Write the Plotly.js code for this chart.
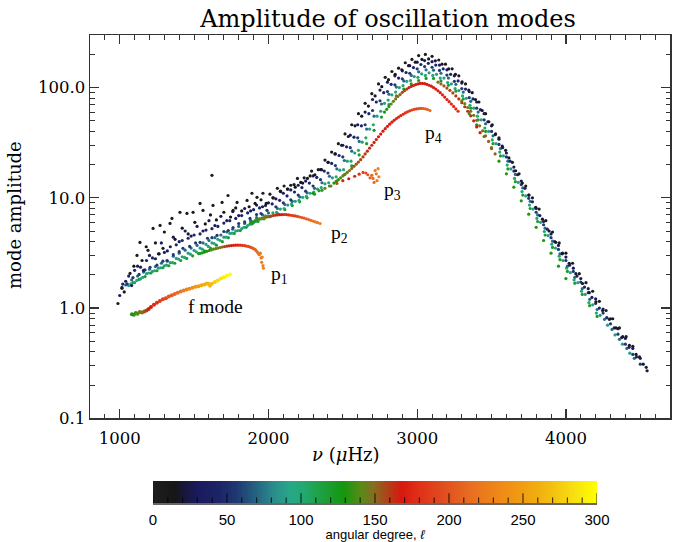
<!DOCTYPE html>
<html><head><meta charset="utf-8">
<script src="https://cdn.plot.ly/plotly-3.0.1.min.js"></script>
<style>html,body{margin:0;padding:0;background:#fff}</style>
</head><body><div id="plot" style="width:680px;height:542px"></div>
<script>
// ---- data: frequency (µHz), amplitude, angular degree ----
// low-degree band, black (l ~ 4)
const nuK = [988,1015,1069,1116,1136,1190,1224,1271,1291,1338,1351,1405,1452,1493,1540,1560,1620,1627,1688,1728,1762,1789,1856,1889,1923,1963,2010,2060,2105,2150,2195,2240,2290,2335,2380,2425,2470,2515,2560,2605,2650,2695,2740,2785,2830,2875,2920,2965,3010,3055,3100,3145,3190,3235,3280,3325,3370,3415,3460,3505,3550,3595,3640,3685,3730,3775,3820,3865,3910,3955,4000,4045,4090,4135,4180,4225,4270,4315,4360,4405,4450,4495,4546];
const ampK = [1.10,1.51,2.06,3.0,3.94,3.34,5.28,5.62,3.48,5.86,6.5,7.38,7.22,7.38,8.9,7.69,16.0,8.53,9.08,10.5,7.69,9.08,9.47,11.0,10.1,11.0,10.8,12.2,12.8,13.0,15.0,15.2,17.5,18.0,22.0,26.0,31.0,38.0,46.0,58.0,72.0,88.0,108,124,140,150,168,180,195,200,192,178,163,148,128,108,90,74,58,46,35,27,21,16.5,12.8,10.0,7.9,6.2,4.9,3.9,3.15,2.55,2.05,1.70,1.42,1.15,0.95,0.80,0.66,0.55,0.45,0.36,0.27];
const ellK = 4;
// dark band (l ~ 18)
const nuD = [2032,2082,2127,2172,2217,2262,2312,2357,2402,2447,2492,2537,2582,2627,2672,2717,2762,2807,2852,2897,2942,2987,3032,3077,3122,3167,3212,3257,3302,3347,3392,3437,3482,3527,3572,3617,3662,3707,3752,3797,3842,3887,3932,3977,4022,4067,4112,4157,4202,4247,4292,4337,4382,4427,4472,4520];
const ampD = [10.0,11.4,12.0,13.2,13.8,15.0,16.2,18.0,21.0,25.0,30.0,36,45,55,68,84,102,118,132,145,158,170,180,182,175,163,148,132,113,95,78,62,49,38,29.5,23,17.6,13.6,10.6,8.2,6.4,5.0,3.95,3.15,2.55,2.05,1.67,1.38,1.14,0.95,0.79,0.66,0.55,0.46,0.38,0.31];
const ellD = 18;
// scattered dark points at low frequency (l ~ 15)
const nuS = [1030,1095,1150,1178,1240,1265,1300,1372,1420,1460,1505,1575,1610,1650,1700,1745,1780,1820,1870,1910,1950,1985,2030,2080,2130,2180,2230,2280];
const ampS = [1.4,2.4,2.7,3.6,3.9,3.1,4.9,4.2,5.3,4.7,6.0,5.8,7.0,6.3,7.4,6.7,8.1,7.6,8.3,8.9,9.6,8.9,10.0,11.5,12.0,12.5,13.6,15.8];
const ellS = 15;
// navy band (l ~ 32)
const nuN = [1000,1040,1080,1120,1160,1200,1240,1280,1320,1360,1400,1440,1480,1520,1560,1600,1640,1680,1720,1760,1800,1840,1880,1920,1960,2000,2050,2100,2150,2200,2250,2300,2350,2400,2450,2500,2550,2600,2650,2700,2750,2800,2850,2900,2950,3000,3050,3100,3150,3200,3250,3300,3350,3400,3450,3500,3550,3600,3650,3700,3750,3800,3850,3900,3950,4000,4050,4100,4150,4200,4250,4300,4350,4400,4450,4500,4540];
const ampN = [1.3,1.75,1.6,2.4,2.2,3.0,2.8,3.9,3.3,4.4,4.0,5.0,4.5,5.5,5.0,6.2,5.6,6.8,6.2,7.5,6.9,8.0,7.6,8.6,8.3,9.0,9.8,11.0,11.8,13.0,14.2,15.8,18.0,21.0,25,30,37,46,60,78,95,112,128,142,158,170,176,172,160,145,128,110,92,74,58,45,34,25.5,19,14.2,10.6,8.0,6.1,4.7,3.7,2.9,2.3,1.85,1.50,1.21,0.98,0.80,0.65,0.53,0.43,0.35,0.29];
const ellN = 32;
// navy-blue band (l ~ 44)
const nuM = [1020,1060,1100,1140,1180,1220,1260,1300,1340,1380,1420,1460,1500,1540,1580,1620,1660,1700,1740,1780,1820,1860,1900,1940,1980,2025,2075,2125,2175,2225,2275,2325,2375,2425,2475,2525,2575,2625,2675,2725,2775,2825,2875,2925,2975,3025,3075,3125,3175,3225,3275,3325,3375,3425,3475,3525,3575,3625,3675,3725,3775,3825,3875,3925,3975,4025,4075,4125,4175,4225,4275,4325,4375,4425,4475];
const ampM = [1.65,1.95,2.2,2.35,2.7,2.85,3.1,3.2,3.6,3.75,4.1,4.3,4.6,4.7,5.1,5.25,5.5,5.9,6.2,6.5,6.9,7.3,7.8,8.1,8.5,8.8,9.5,10.4,11.3,12.4,13.6,15.3,17.5,20.5,24.2,29,35.5,45,58,74,90,107,122,137,152,162,166,160,148,132,115,97,79,63,49,37.5,28.5,21.5,16.2,12.2,9.2,6.9,5.2,4.0,3.1,2.45,1.95,1.55,1.25,1.0,0.82,0.66,0.54,0.44,0.36];
const ellM = 44;
// blue band (l ~ 57)
const nuB = [1015,1050,1089,1130,1170,1204,1250,1290,1318,1360,1400,1425,1470,1510,1540,1590,1620,1654,1700,1730,1762,1800,1840,1876,1920,1950,1990,2050,2100,2150,2200,2250,2300,2350,2400,2450,2500,2550,2600,2650,2700,2750,2800,2850,2900,2950,3000,3050,3100,3150,3200,3250,3300,3350,3400,3450,3500,3550,3600,3650,3700,3750,3800,3850,3900,3950,4000,4050,4100,4150,4200,4250,4300,4350,4400,4450,4500];
const ampB = [1.54,1.66,1.89,2.02,2.22,2.34,2.45,2.66,2.70,3.05,3.25,3.48,3.62,3.90,3.94,4.30,4.35,4.56,4.95,5.05,5.38,5.85,6.05,6.5,7.05,7.2,7.7,8.3,9.0,9.6,10.6,11.5,12.8,14.6,16.8,19.6,23.5,28.5,35,46,62,76,92,106,120,135,148,155,153,143,130,114,98,81,65,51,40,30.5,23.5,17.5,13.2,9.9,7.4,5.7,4.35,3.4,2.7,2.15,1.72,1.38,1.1,0.9,0.72,0.58,0.47,0.38,0.31];
const ellB = 57;
// blue-teal band (l ~ 72)
const nuU = [1040,1080,1120,1160,1200,1240,1280,1320,1360,1400,1440,1480,1520,1560,1600,1640,1680,1720,1760,1800,1840,1880,1920,1960,2000,2060,2110,2160,2210,2260,2310,2360,2410,2460,2510,2560,2610,2660,2710,2760,2810,2860,2910,2960,3010,3060,3110,3160,3210,3260,3310,3360,3410,3460,3510,3560,3610,3660,3710,3760,3810,3860,3910,3960,4010,4060,4110,4160,4210,4260,4310,4360,4410,4460];
const ampU = [1.62,1.80,1.95,2.12,2.25,2.38,2.55,2.66,2.95,3.15,3.35,3.5,3.7,3.9,4.1,4.35,4.6,4.9,5.2,5.5,5.85,6.2,6.6,7.0,7.3,8.0,8.7,9.3,10.2,11.1,12.2,13.7,15.7,18.3,21.8,26.5,32.5,42,55,71,87,101,115,129,139,145,144,135,122,107,91,75,60,47,36.5,28,21.5,16.3,12.3,9.3,7.0,5.3,4.05,3.1,2.4,1.9,1.5,1.2,0.97,0.79,0.64,0.52,0.43,0.35];
const ellU = 72;
// teal band (l ~ 88)
const nuT = [1060,1100,1140,1180,1220,1260,1300,1340,1380,1420,1460,1500,1540,1580,1620,1660,1700,1740,1780,1820,1860,1900,1940,1980,2030,2080,2130,2180,2230,2280,2330,2380,2430,2480,2530,2580,2630,2680,2730,2780,2830,2880,2930,2980,3030,3080,3130,3180,3230,3280,3330,3380,3430,3480,3530,3580,3630,3680,3730,3780,3830,3880,3930,3980,4030,4080,4130,4180,4230,4280,4330,4380,4430];
const ampT = [1.60,1.70,1.84,2.05,2.15,2.30,2.42,2.58,2.82,2.92,3.15,3.33,3.50,3.78,3.90,4.20,4.40,4.75,5.00,5.25,5.60,5.95,6.40,6.85,7.3,7.9,8.6,9.3,10.1,11.0,12.0,13.4,15.2,17.8,21.5,25.5,32,42,55,72,86,100,114,126,133,136,132,122,108,94,80,65,51,40,31,24,18.3,13.8,10.4,7.9,6.0,4.55,3.5,2.7,2.1,1.7,1.33,1.07,0.86,0.70,0.57,0.47,0.39];
const ellT = 88;
// teal-green band (l ~ 103)
const nuV = [1075,1115,1155,1195,1235,1275,1315,1355,1395,1435,1475,1515,1555,1595,1635,1675,1715,1755,1795,1835,1875,1915,1955,1995,2055,2105,2155,2205,2255,2305,2355,2405,2455,2505,2555,2605,2655,2705,2755,2805,2855,2905,2955,3005,3055,3105,3155,3205,3255,3305,3355,3405,3455,3505,3555,3605,3655,3705,3755,3805,3855,3905,3955,4005,4055,4105,4155,4205];
const ampV = [1.66,1.78,1.90,2.08,2.18,2.32,2.45,2.58,2.78,2.88,3.08,3.24,3.42,3.62,3.85,4.1,4.4,4.78,5.05,5.4,5.75,6.1,6.45,6.8,7.4,8.0,8.8,9.5,10.3,11.3,12.4,13.7,15.5,18.0,21.5,27,35,46,61,77,91,104,116,124,129,129,122,111,98,84,69,55,43,33.5,26,19.8,15.0,11.4,8.6,6.5,4.95,3.8,2.95,2.3,1.8,1.42,1.12,0.9];
const ellV = 103;
// green band (l ~ 120)
const nuG = [1090,1130,1170,1210,1250,1290,1330,1370,1410,1450,1490,1530,1570,1610,1650,1690,1730,1770,1810,1850,1890,1930,1970,2010,2060,2110,2160,2210,2260,2310,2360,2410,2460,2510,2560,2610,2660,2710,2760,2810,2860,2910,2960,3010,3060,3110,3160,3210,3260,3310,3360,3410,3460,3510,3560,3610,3660,3710,3760,3810,3860,3910,3960,4010,4060,4110,4160,4210];
const ampG = [1.70,1.82,1.93,2.08,2.18,2.32,2.42,2.55,2.70,2.82,2.98,3.12,3.30,3.50,3.72,4.00,4.35,4.75,5.05,5.40,5.80,6.10,6.45,6.75,7.2,7.8,8.5,9.2,10.0,10.8,11.7,12.8,14.2,16.2,19.5,24.5,31,41,54,70,84,97,108,116,121,121,115,105,93,79,65,51,40,31,24,18.3,14.0,10.6,8.0,6.1,4.6,3.55,2.75,2.15,1.68,1.33,1.05,0.84];
const ellG = 120;
// green points on the falling side (l ~ 132)
const nuG2 = [3350,3400,3450,3500,3550,3600,3650,3700,3750,3800,3850,3900,3950,4000];
const ampG2 = [58,46,36,28,21.5,16.5,12.5,9.4,7.1,5.4,4.1,3.15,2.4,1.85];
const ellG2 = 132;
// f mode
const nuF = [1082,1095,1108,1120,1135,1150,1165,1180,1195,1210,1230,1250,1270,1290,1310,1330,1350,1370,1390,1410,1430,1450,1470,1490,1510,1530,1550,1570,1585,1597,1607,1620,1640,1660,1680,1700,1720,1741];
const ampF = [0.88,0.87,0.90,0.89,0.92,0.91,0.93,0.95,0.98,1.02,1.07,1.12,1.16,1.20,1.23,1.27,1.31,1.34,1.38,1.41,1.44,1.47,1.50,1.53,1.56,1.58,1.61,1.64,1.67,1.66,1.59,1.66,1.72,1.78,1.85,1.90,1.96,2.02];
const ellF = [128,132,136,140,144,148,153,160,166,170,175,180,185,190,195,200,205,210,215,220,225,230,235,240,245,250,255,260,262,264,266,270,276,282,287,292,296,300];
// p1
const nuP1 = [1540,1555,1570,1585,1600,1615,1630,1645,1660,1675,1690,1705,1720,1735,1750,1765,1780,1795,1810,1825,1840,1852,1865,1878,1890,1900,1910,1918,1925,1932,1938,1945,1950,1955,1958,1963,1966];
const ampP1 = [3.13,3.17,3.22,3.27,3.32,3.37,3.42,3.46,3.50,3.54,3.58,3.61,3.64,3.67,3.69,3.71,3.72,3.72,3.72,3.70,3.68,3.65,3.62,3.57,3.52,3.46,3.40,3.31,3.22,3.13,3.05,3.15,2.85,2.60,2.90,2.43,2.30];
const ellP1 = [122,125,128,131,134,137,140,143,146,149,152,156,160,163,166,169,172,175,178,181,185,188,192,196,200,204,208,211,215,218,220,222,224,226,228,230,232];
// p2
const nuP2 = [1880,1895,1910,1925,1940,1955,1970,1985,2000,2015,2030,2045,2060,2075,2090,2105,2120,2135,2150,2165,2180,2195,2210,2225,2240,2255,2270,2285,2300,2315,2330,2347];
const ampP2 = [5.9,6.05,6.2,6.33,6.45,6.53,6.6,6.68,6.75,6.82,6.9,6.95,7.0,7.03,7.05,7.06,7.05,7.0,6.95,6.9,6.85,6.78,6.7,6.62,6.55,6.45,6.35,6.25,6.15,6.05,5.95,5.85];
const ellP2 = [125,128,132,136,140,143,146,149,152,155,158,162,165,168,170,173,176,179,182,186,190,194,198,202,205,209,212,215,218,221,223,226];
// p3
const nuP3 = [2300,2340,2380,2420,2460,2500,2540,2580,2610,2636,2655,2668,2683,2695,2703,2710,2717,2725,2730,2737,2742];
const ampP3 = [11.0,11.6,12.2,12.8,13.5,14.3,14.9,15.7,16.4,17.0,16.8,16.2,15.2,16.0,15.0,13.8,17.7,16.5,14.3,18.4,15.5];
const ellP3 = [128,136,144,150,155,162,168,175,180,188,198,204,208,211,214,216,220,222,225,228,232];
// p4
const nuP4 = [2440,2455,2470,2485,2500,2515,2530,2545,2560,2575,2590,2605,2620,2636,2650,2665,2680,2695,2710,2725,2740,2755,2770,2785,2800,2815,2830,2845,2860,2875,2890,2905,2920,2935,2950,2965,2980,2995,3010,3025,3040,3055,3070,3086];
const ampP4 = [13.6,14.1,14.6,15.2,15.8,16.4,17.0,17.7,18.5,19.3,20.2,21.1,22.2,23.5,25.0,26.5,28.2,30.0,31.8,33.8,35.8,37.9,40.2,42.4,44.5,46.6,48.6,50.5,52.3,54.0,55.7,57.3,58.9,60.3,61.6,62.6,63.5,64.1,64.5,64.7,64.6,64.2,63.3,62.0];
const ellP4 = [130,133,136,139,142,145,147,149,151,153,155,157,159,160,161,162,163,164,165,166,167,168,169,170,171,172,173,174,175,176,177,179,181,183,185,188,191,194,197,200,203,206,209,213];
// p5
const nuP5 = [2780,2795,2810,2825,2840,2855,2870,2885,2900,2915,2930,2945,2960,2975,2990,3005,3020,3035,3050,3065,3080,3095,3110,3125,3140,3155,3170,3185,3200,3215,3230,3245,3260,3275];
const ampP5 = [60,63.5,67,71,75,79,83,86.5,90.5,94,97,100,102.5,104.5,106.5,108,109,109,108.5,107,105,103,100,97,93.5,90,86,82,78,74.5,71,67.5,64,61];
const ellP5 = [128,132,136,140,144,148,151,154,157,160,162,164,165,166,167,168,168,169,169,170,170,171,171,172,172,173,173,174,174,175,176,177,178,180];
// p6
const nuP6 = [3140,3160,3180,3200,3220,3240,3260,3280,3300,3320,3340,3360,3380,3400,3423];
const ampP6 = [112,108,103.5,99,94.5,89.5,84,79,73,67,61,55.5,50,44,39];
const ellP6 = [150,152,154,156,158,159,160,161,162,163,164,165,166,168,170];
// p7
const nuP7 = [3300,3320,3340,3360,3380,3400,3420,3440,3460,3480,3500,3524];
const ampP7 = [76,71.5,66,61,56,50.5,45,40.5,36.5,32.5,28.5,25];
const ellP7 = [142,143,144,146,147,148,149,150,151,152,152,153];

const xTicks = [1000,2000,3000,4000];
const yTicks = [0.1,1,10,100];
const yTickText = ['0.1','1.0','10.0','100.0'];
const cbTicks = [0,50,100,150,200,250,300];

// ---- style ----
const cscale = [
 [0.00,'#1e1e1e'],[0.05,'#161616'],[0.07,'#17173a'],[0.10,'#1a1a5c'],[0.15,'#1c2468'],
 [0.19,'#1e3a72'],[0.23,'#246080'],[0.27,'#2a8a8a'],[0.31,'#28a888'],[0.34,'#22a870'],
 [0.38,'#1ea040'],[0.43,'#14960e'],[0.47,'#5a8a18'],[0.50,'#8a6a20'],[0.53,'#b04018'],
 [0.56,'#d81810'],[0.60,'#e03018'],[0.66,'#e05020'],[0.72,'#e87020'],[0.78,'#f08818'],
 [0.84,'#f0a010'],[0.90,'#f4c010'],[0.95,'#f8e010'],[1.00,'#ffff00']];

function mk(nu, amp, ell, size) {
  const col = Array.isArray(ell) ? ell : nu.map(() => ell);
  return {type: 'scatter', mode: 'markers', x: nu, y: amp, xaxis: 'x', yaxis: 'y',
          marker: {size: size, color: col, colorscale: cscale, cmin: 0, cmax: 300, showscale: false, line: {width: 0}},
          hoverinfo: 'skip', showlegend: false};
}

// colour key: the colour scale itself, drawn as a strip on its own small axis
const keyLevels = [];
for (let v = 0; v <= 300; v += 1) keyLevels.push(v);
const colorKey = {type: 'heatmap', x: keyLevels, y: [0, 1], z: [keyLevels, keyLevels],
  colorscale: cscale, zmin: 0, zmax: 300, showscale: false, zsmooth: false,
  xaxis: 'x2', yaxis: 'y2', hoverinfo: 'skip'};
// tick marks of the colour key, rising from its lower edge (strip is 22 px tall)
const keyTickX = [], keyTickY = [], keyTickS = [];
for (let v = 0; v <= 300; v += 10) {
  const major = v % 50 === 0;
  keyTickX.push(v);
  keyTickS.push(major ? 14 : 8);
  keyTickY.push(0);
}
const keyTicks = {type: 'scatter', mode: 'markers', x: keyTickX, y: keyTickY, xaxis: 'x2', yaxis: 'y2',
  cliponaxis: true, hoverinfo: 'skip', showlegend: false,
  marker: {symbol: 'line-ns', size: keyTickS, color: '#000', line: {color: '#000', width: 1.2}}};

const data = [
  mk(nuG, ampG, ellG, 3.2),
  mk(nuG2, ampG2, ellG2, 3.2),
  mk(nuV, ampV, ellV, 3.2),
  mk(nuT, ampT, ellT, 3.2),
  mk(nuU, ampU, ellU, 3.2),
  mk(nuB, ampB, ellB, 3.2),
  mk(nuM, ampM, ellM, 3.2),
  mk(nuN, ampN, ellN, 3.2),
  mk(nuS, ampS, ellS, 3.2),
  mk(nuD, ampD, ellD, 3.2),
  mk(nuK, ampK, ellK, 3.2),
  mk(nuP7, ampP7, ellP7, 3.2),
  mk(nuP6, ampP6, ellP6, 3.2),
  mk(nuP5, ampP5, ellP5, 3.2),
  mk(nuP4, ampP4, ellP4, 3.2),
  mk(nuP3, ampP3, ellP3, 3.2),
  mk(nuP2, ampP2, ellP2, 3.2),
  mk(nuP1, ampP1, ellP1, 3.2),
  mk(nuF, ampF, ellF, 4),
  colorKey,
  keyTicks
];

const serif = 'DejaVu Serif, serif';
const sans = 'Liberation Sans, Arial, sans-serif';
const axCol = '#333';
// plot area spans y = 35..542 px; main panel bottom at 418 px, colour strip at 481..503 px
const layout = {
  width: 680, height: 542,
  margin: {l: 90, r: 10, t: 35, b: 0, autoexpand: false},
  paper_bgcolor: '#fff', plot_bgcolor: 'rgba(0,0,0,0)',
  title: {text: 'Amplitude of oscillation modes', x: 0.5706, xref: 'container', xanchor: 'center', y: 0.965, yanchor: 'middle',
          font: {family: serif, size: 24, color: '#000'}},
  xaxis: {anchor: 'y', range: [800, 4700], tickmode: 'array', tickvals: xTicks, ticktext: xTicks.map(String),
          ticks: 'inside', ticklen: 9, tickwidth: 1.2, tickcolor: axCol, ticklabelstandoff: 4,
          showline: true, linecolor: axCol, linewidth: 1.5, mirror: 'allticks',
          showgrid: false, zeroline: false,
          minor: {ticks: 'inside', ticklen: 4.5, tickwidth: 1, tickcolor: axCol, dtick: 100, tick0: 800},
          tickfont: {family: serif, size: 16.5, color: '#000'}},
  yaxis: {anchor: 'x', domain: [0.2440, 1], type: 'log', range: [-1, Math.log10(300)], tickmode: 'array', tickvals: yTicks, ticktext: yTickText,
          ticks: 'inside', ticklen: 9, tickwidth: 1.2, tickcolor: axCol,
          showline: true, linecolor: axCol, linewidth: 1.5, mirror: 'allticks',
          showgrid: false, zeroline: false,
          minor: {ticks: 'inside', ticklen: 4.5, tickwidth: 1, tickcolor: axCol, tickmode: 'array',
                  tickvals: [0.2,0.3,0.4,0.5,0.6,0.7,0.8,0.9,2,3,4,5,6,7,8,9,20,30,40,50,60,70,80,90,200,300]},
          tickfont: {family: serif, size: 16.5, color: '#000'}},
  xaxis2: {anchor: 'y2', domain: [0.1086, 0.8741], range: [0, 300], tickmode: 'array', tickvals: cbTicks,
           ticks: '', ticklabelstandoff: 2, showline: true, linecolor: '#666', linewidth: 1.5,
           showgrid: false, zeroline: false,
           tickfont: {family: sans, size: 15, color: '#000'},
           title: {text: 'angular degree, <i>ℓ</i>', standoff: 3, font: {family: sans, size: 13, color: '#000'}}},
  yaxis2: {anchor: 'x2', domain: [0.0769, 0.1203], range: [0, 1], showticklabels: false, ticks: '',
           showline: false, showgrid: false, zeroline: false, fixedrange: true},
  annotations: [
    {text: '<i>ν</i> (<i>μ</i>Hz)', xref: 'paper', yref: 'paper', x: 0.4414, y: 0.1716, xanchor: 'center', yanchor: 'middle',
     showarrow: false, font: {family: serif, size: 18, color: '#000'}},
    {text: 'mode amplitude', xref: 'paper', yref: 'paper', x: -0.1293, y: 0.645, xanchor: 'center', yanchor: 'middle',
     textangle: -90, showarrow: false, font: {family: serif, size: 18, color: '#000'}},
    {text: 'f mode', xref: 'x', yref: 'y', x: 1641, y: 0.015, xanchor: 'center', yanchor: 'middle', showarrow: false,
     font: {family: 'Liberation Serif, serif', size: 19.5, color: '#000'}},
    {text: 'p<sub>1</sub>', xref: 'x', yref: 'y', x: 2071, y: 0.296, xanchor: 'center', yanchor: 'middle', showarrow: false,
     font: {family: 'Liberation Serif, serif', size: 19.5, color: '#000'}},
    {text: 'p<sub>2</sub>', xref: 'x', yref: 'y', x: 2481, y: 0.668, xanchor: 'center', yanchor: 'middle', showarrow: false,
     font: {family: 'Liberation Serif, serif', size: 19.5, color: '#000'}},
    {text: 'p<sub>3</sub>', xref: 'x', yref: 'y', x: 2831, y: 1.065, xanchor: 'center', yanchor: 'middle', showarrow: false,
     font: {family: 'Liberation Serif, serif', size: 19.5, color: '#000'}},
    {text: 'p<sub>4</sub>', xref: 'x', yref: 'y', x: 3107, y: 1.583, xanchor: 'center', yanchor: 'middle', showarrow: false,
     font: {family: 'Liberation Serif, serif', size: 19.5, color: '#000'}}
  ]
};

Plotly.newPlot('plot', data, layout, {displayModeBar: false, staticPlot: true});
</script></body></html>
